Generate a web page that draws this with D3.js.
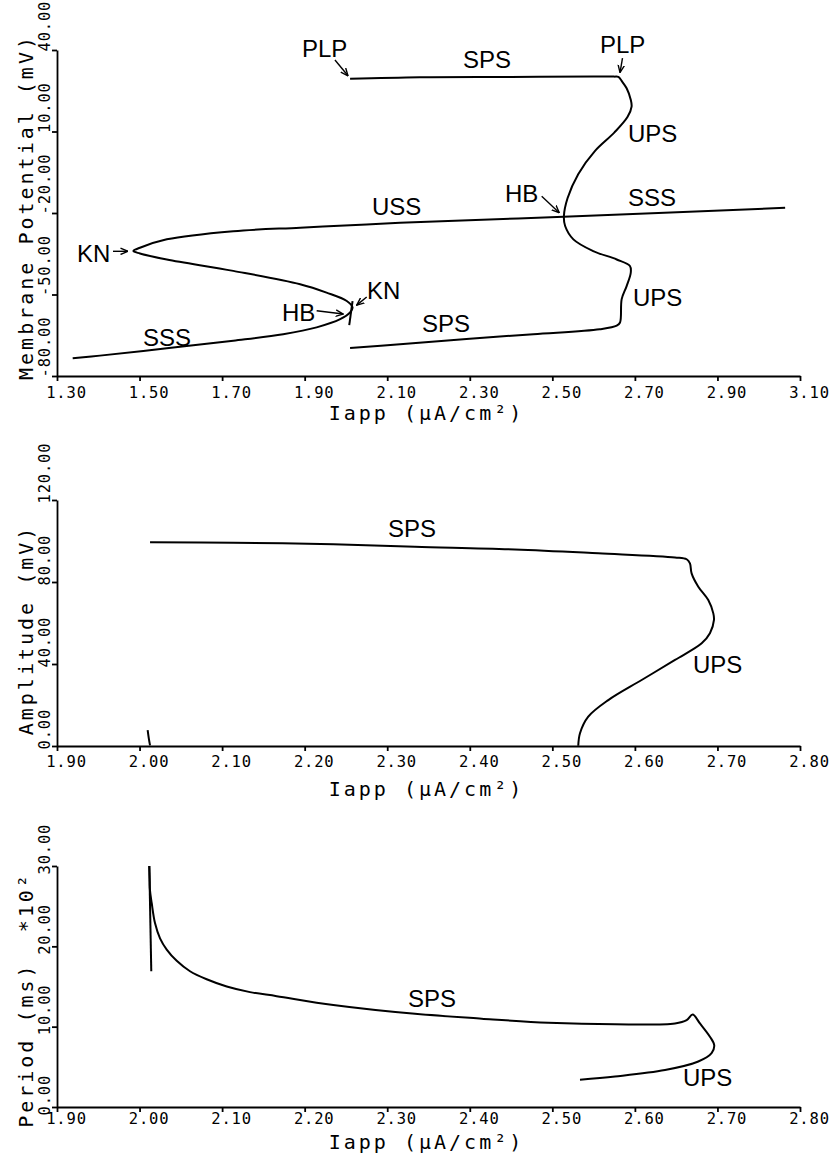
<!DOCTYPE html>
<html>
<head>
<meta charset="utf-8">
<script src="https://cdn.jsdelivr.net/npm/d3@7"></script>
<style>
  body { margin: 0; background: #fff; }
  svg { display: block; background: #fff; }
  .tick text { font-family: "DejaVu Sans Mono", monospace; font-size: 15.5px; letter-spacing: 0.8px; fill: #000; }
  .title { font-family: "DejaVu Sans Mono", monospace; font-size: 20px; letter-spacing: 3px; fill: #000; }
  .lbl { font-family: "Liberation Sans", Arial, sans-serif; font-size: 24px; fill: #000; }
  .domain, .tick line { stroke: #000; stroke-width: 1.8; }
</style>
</head>
<body>
<svg width="831" height="1154"></svg>
<script>
// ---- data ----
// panel 1: membrane potential vs Iapp
const xTicks1 = [1.30, 1.50, 1.70, 1.90, 2.10, 2.30, 2.50, 2.70, 2.90, 3.10];
const yTicks1 = [-80, -50, -20, 10, 40];
// steady states: SSS -> KN -> unstable middle -> KN -> USS -> HB -> SSS
const steadyState = [
  [1.338, -73.5], [1.404, -72.5], [1.566, -69.8], [1.727, -67.0], [1.848, -64.6],
  [1.929, -62.1], [1.986, -59.1], [2.010, -56.6], [2.016, -54.8], [2.002, -52.4],
  [1.953, -49.3], [1.889, -46.2], [1.727, -41.3], [1.566, -37.1], [1.501, -34.9],
  [1.485, -34.0], [1.501, -32.8], [1.566, -29.7], [1.727, -26.7], [1.889, -25.4],
  [2.050, -24.2], [2.131, -23.6], [2.527, -21.4], [3.064, -18.1]
];
// periodic solutions: max of SPS, UPS through HB, min of SPS
const periodicMaxMin = [
  [2.010, 29.4], [2.179, 30.0], [2.400, 30.1], [2.600, 30.2], [2.650, 30.2], [2.660, 30.1],
  [2.668, 28.6], [2.680, 25.9], [2.690, 21.7], [2.692, 19.2], [2.682, 15.3], [2.650, 9.6],
  [2.603, 2.8], [2.563, -5.6], [2.537, -14.5], [2.528, -21.2], [2.531, -24.8],
  [2.551, -29.7], [2.599, -34.0], [2.656, -37.1], [2.688, -39.5], [2.690, -42.0],
  [2.680, -46.9], [2.668, -51.7], [2.664, -60.3], [2.656, -61.5], [2.615, -62.8],
  [2.454, -64.6], [2.292, -66.4], [2.131, -68.3], [2.010, -69.7]
];
const hbSmall1 = [[2.016, -52.4], [2.008, -61.3]];

// panel 2: amplitude vs Iapp
const xTicks2 = [1.90, 2.00, 2.10, 2.20, 2.30, 2.40, 2.50, 2.60, 2.70, 2.80];
const yTicks2 = [0, 40, 80, 120];
const amplitude = [
  [2.0127, 99.4], [2.1136, 99.2], [2.2347, 98.4], [2.3336, 97.2], [2.4547, 95.9],
  [2.5557, 94.0], [2.6486, 92.0], [2.6627, 91.1], [2.6667, 89.1], [2.6687, 84.2],
  [2.6768, 77.7], [2.6889, 71.2], [2.6950, 64.7], [2.6958, 61.5], [2.6909, 55.0],
  [2.6809, 50.1], [2.6486, 42.0], [2.6082, 32.2], [2.5678, 22.4], [2.5435, 14.3],
  [2.5335, 6.2], [2.5314, 0.1]
];
const ampSmall = [[2.0098, 7.8], [2.0115, 3.0], [2.0127, 0.3]];

// panel 3: period (x100 ms) vs Iapp
const yTicks3 = [0, 10, 20, 30];
const period = [
  [2.0118, 30.0], [2.0122, 28.5], [2.0126, 27.0], [2.0147, 25.4], [2.0187, 22.9],
  [2.0248, 21.0], [2.0329, 19.6], [2.0450, 18.2], [2.0611, 16.9], [2.0813, 15.9],
  [2.1056, 15.0], [2.1338, 14.3], [2.1661, 13.8], [2.2347, 12.7], [2.3336, 11.6],
  [2.4144, 11.0], [2.4951, 10.5], [2.5759, 10.3], [2.6486, 10.4], [2.6627, 10.8],
  [2.6700, 11.5], [2.6788, 10.4], [2.6909, 8.75], [2.6961, 7.7], [2.6929, 6.7],
  [2.6768, 5.66], [2.6365, 4.6], [2.5759, 3.8], [2.5335, 3.4]
];
const perSmall = [[2.0118, 30.0], [2.0142, 16.9]];

// annotations, in data units
const labels1 = [
  ["PLP", 1.8935, 37.4], ["SPS", 2.2835, 33.4], ["PLP", 2.6154, 38.9],
  ["UPS", 2.6832, 6.2], ["HB", 2.3853, -15.8], ["SSS", 2.6832, -17.6],
  ["USS", 2.0631, -20.6], ["UPS", 2.6953, -54.3], ["SPS", 2.1842, -63.9],
  ["KN", 1.3484, -38.2], ["KN", 2.051, -51.7], ["HB", 1.845, -59.8],
  ["SSS", 1.5083, -69.0]
];
const arrows1 = [
  [[1.9734, 36.3], [2.005, 30.5]],
  [[2.670, 37.0], [2.6639, 31.7]],
  [[2.4742, -13.8], [2.5168, -19.9]],
  [[1.4357, -34.1], [1.472, -34.1]],
  [[2.0503, -50.9], [2.0261, -53.9]],
  [[1.929, -56.0], [1.9935, -57.2]]
];
const labels2 = [["SPS", 2.3009, 102.0], ["UPS", 2.6704, 35.6]];
const labels3 = [["SPS", 2.3252, 12.5], ["UPS", 2.6582, 2.6]];

const panels = [
  { x0: 57, x1: 800, y0: 50, y1: 376, xDomain: [1.3, 3.1], yDomain: [-80, 40],
    xTicks: xTicks1, yTicks: yTicks1, yTitle: "Membrane Potential (mV)", yTitleAt: 207,
    xLabelDy: 22, xTitleDy: 44, yLabelShift: 1,
    curves: [steadyState, periodicMaxMin, hbSmall1], labels: labels1, arrows: arrows1 },
  { x0: 57, x1: 800, y0: 500, y1: 746, xDomain: [1.9, 2.8], yDomain: [0, 120],
    xTicks: xTicks2, yTicks: yTicks2, yTitle: "Amplitude (mV)", yTitleAt: 630,
    xLabelDy: 21, xTitleDy: 50, yLabelShift: 3,
    curves: [amplitude, ampSmall], labels: labels2, arrows: [] },
  { x0: 57, x1: 800, y0: 866, y1: 1107, xDomain: [1.9, 2.8], yDomain: [0, 30],
    xTicks: xTicks2, yTicks: yTicks3, yTitle: "Period (ms)\u00a0\u00a0*10\u00b2", yTitleAt: 1000,
    xLabelDy: 17, xTitleDy: 42, yLabelShift: 8,
    curves: [period, perSmall], labels: labels3, arrows: [] }
];

const svg = d3.select("svg");

svg.append("defs").append("marker")
  .attr("id", "arrow")
  .attr("viewBox", "0 0 8 8")
  .attr("refX", 7.5).attr("refY", 4)
  .attr("markerWidth", 8).attr("markerHeight", 8)
  .attr("markerUnits", "userSpaceOnUse")
  .attr("orient", "auto")
  .append("path")
  .attr("d", "M0,0.8 L7.5,4 L0,7.2")
  .attr("fill", "none")
  .attr("stroke", "#000")
  .attr("stroke-width", 1.4);

panels.forEach(p => {
  const x = d3.scaleLinear().domain(p.xDomain).range([p.x0, p.x1]);
  const y = d3.scaleLinear().domain(p.yDomain).range([p.y1, p.y0]);
  const g = svg.append("g");

  const gx = g.append("g")
    .attr("transform", `translate(0,${p.y1})`)
    .call(d3.axisBottom(x).tickValues(p.xTicks).tickSize(5).tickSizeOuter(0)
      .tickFormat(d => d.toFixed(2)));
  gx.selectAll(".tick text")
    .attr("y", p.xLabelDy).attr("dy", null).attr("x", 9);

  const gy = g.append("g")
    .attr("transform", `translate(${p.x0},0)`)
    .call(d3.axisLeft(y).tickValues(p.yTicks).tickSize(5).tickSizeOuter(0)
      .tickFormat(d => d.toFixed(2)));
  gy.selectAll(".tick text")
    .attr("x", 0).attr("dy", null)
    .attr("text-anchor", "start")
    .attr("transform", `translate(-7,${p.yLabelShift}) rotate(-90)`);

  g.append("text")
    .attr("class", "title")
    .attr("text-anchor", "middle")
    .attr("x", (p.x0 + p.x1) / 2 - 2)
    .attr("y", p.y1 + p.xTitleDy)
    .text("Iapp (\u03bcA/cm\u00b2)");

  g.append("text")
    .attr("class", "title")
    .attr("text-anchor", "middle")
    .attr("transform", `translate(33,${p.yTitleAt}) rotate(-90)`)
    .text(p.yTitle);

  const line = d3.line()
    .x(d => x(d[0]))
    .y(d => y(d[1]))
    .curve(d3.curveCatmullRom.alpha(0.5));

  g.selectAll("path.curve")
    .data(p.curves)
    .enter()
    .append("path")
    .attr("class", "curve")
    .attr("d", line)
    .attr("fill", "none")
    .attr("stroke", "#000")
    .attr("stroke-width", 2);

  g.selectAll("text.lbl")
    .data(p.labels)
    .enter()
    .append("text")
    .attr("class", "lbl")
    .attr("x", d => x(d[1]))
    .attr("y", d => y(d[2]))
    .text(d => d[0]);

  g.selectAll("line.arrow")
    .data(p.arrows)
    .enter()
    .append("line")
    .attr("class", "arrow")
    .attr("x1", d => x(d[0][0])).attr("y1", d => y(d[0][1]))
    .attr("x2", d => x(d[1][0])).attr("y2", d => y(d[1][1]))
    .attr("stroke", "#000")
    .attr("stroke-width", 1.4)
    .attr("marker-end", "url(#arrow)");
});
</script>
</body>
</html>
